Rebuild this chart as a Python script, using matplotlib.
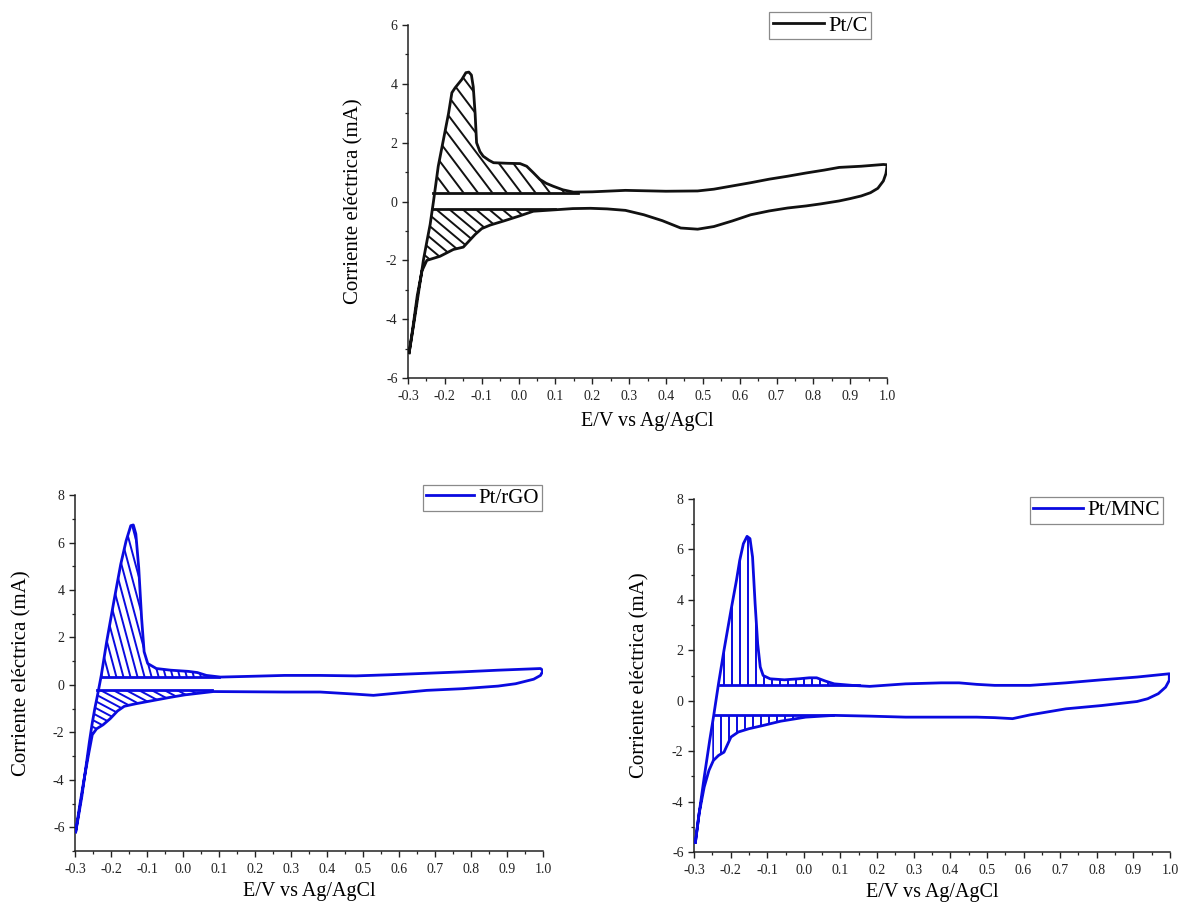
#!/usr/bin/env python3
"""Voltamperogramas ciclicos Pt/C, Pt/rGO y Pt/MNC con regiones H_upd rayadas."""

import matplotlib

matplotlib.use("Agg")
import matplotlib.pyplot as plt
import numpy as np
from matplotlib.collections import LineCollection
from matplotlib.path import Path
from matplotlib.ticker import FormatStrFormatter, MultipleLocator

plt.rcParams["font.family"] = ["Liberation Serif", "DejaVu Serif"]
plt.rcParams["axes.unicode_minus"] = False

# ---- Pt/C ---------------------------------------------------------------
ptc_an_x = [-0.297, -0.29, -0.28, -0.268, -0.258, -0.248, -0.24, -0.231, -0.218, -0.204,
            -0.19, -0.181, -0.172, -0.154, -0.143, -0.135, -0.128, -0.123, -0.118, -0.114,
            -0.105, -0.096, -0.08, -0.068, -0.03, 0.004, 0.022, 0.04, 0.058, 0.075,
            0.094, 0.12, 0.149, 0.2, 0.29, 0.4, 0.486, 0.53, 0.58, 0.63,
            0.68, 0.73, 0.78, 0.83, 0.87, 0.93, 0.97, 0.99, 1.0]
ptc_an_y = [-5.14, -4.6, -3.8, -2.8, -1.97, -1.3, -0.78, 0.0, 1.2, 2.1,
            3.0, 3.7, 3.87, 4.15, 4.38, 4.4, 4.3, 3.9, 3.0, 2.0,
            1.7, 1.54, 1.4, 1.32, 1.3, 1.29, 1.2, 0.98, 0.75, 0.62,
            0.52, 0.4, 0.32, 0.33, 0.38, 0.35, 0.36, 0.42, 0.53, 0.64,
            0.76, 0.86, 0.97, 1.07, 1.16, 1.2, 1.24, 1.26, 1.25]
ptc_ca_x = [1.0, 0.997, 0.99, 0.975, 0.955, 0.93, 0.9, 0.87, 0.82, 0.78,
            0.73, 0.68, 0.63, 0.58, 0.53, 0.486, 0.44, 0.39, 0.34, 0.29,
            0.24, 0.195, 0.147, 0.1, 0.04, 0.0, -0.04, -0.077, -0.1, -0.118,
            -0.15, -0.177, -0.213, -0.249, -0.262, -0.275, -0.287, -0.297]
ptc_ca_y = [1.2, 0.95, 0.7, 0.45, 0.3, 0.19, 0.1, 0.02, -0.08, -0.15,
            -0.22, -0.32, -0.45, -0.66, -0.85, -0.94, -0.9, -0.65, -0.45, -0.3,
            -0.25, -0.23, -0.24, -0.28, -0.33, -0.5, -0.66, -0.8, -0.92, -1.12,
            -1.55, -1.63, -1.86, -2.0, -2.35, -3.2, -4.3, -5.14]
ptc_base = [0.30, -0.25]
ptc_up_line = [-0.231, 0.16]
ptc_lo_line = [-0.236, 0.10]
ptc_lo_hatch = [-0.256, 0.10]

# ---- Pt/rGO -------------------------------------------------------------
rgo_an_x = [-0.298, -0.29, -0.281, -0.27, -0.26, -0.252, -0.245, -0.237, -0.227, -0.212,
            -0.192, -0.173, -0.158, -0.145, -0.138, -0.131, -0.123, -0.115, -0.108, -0.098,
            -0.074, -0.034, 0.015, 0.04, 0.065, 0.104, 0.183, 0.282, 0.381, 0.48,
            0.578, 0.677, 0.776, 0.875, 0.993]
rgo_an_y = [-6.19, -5.5, -4.7, -3.5, -2.4, -1.6, -1.0, -0.4, 0.4, 1.82,
            3.52, 5.08, 6.07, 6.71, 6.74, 6.36, 4.94, 2.81, 1.4, 0.9,
            0.69, 0.62, 0.57, 0.52, 0.4, 0.33, 0.36, 0.4, 0.4, 0.38,
            0.43, 0.49, 0.55, 0.62, 0.69]
rgo_ca_x = [1.0, 0.993, 0.974, 0.924, 0.875, 0.776, 0.677, 0.578, 0.529, 0.48,
            0.381, 0.282, 0.183, 0.084, 0.005, -0.034, -0.084, -0.133, -0.163, -0.182,
            -0.202, -0.222, -0.24, -0.252, -0.262, -0.275, -0.286, -0.298]
rgo_ca_y = [0.6, 0.4, 0.24, 0.05, -0.05, -0.16, -0.23, -0.37, -0.44, -0.39,
            -0.3, -0.3, -0.29, -0.28, -0.42, -0.52, -0.66, -0.8, -0.9, -1.1,
            -1.42, -1.68, -1.85, -2.1, -2.9, -4.0, -5.0, -6.19]
rgo_base = [0.33, -0.23]
rgo_up_line = [-0.224, 0.10]
rgo_lo_line = [-0.238, 0.08]
rgo_lo_hatch = [-0.25, 0.08]

# ---- Pt/MNC -------------------------------------------------------------
mnc_an_x = [-0.296, -0.286, -0.272, -0.257, -0.246, -0.233, -0.218, -0.199, -0.184, -0.175,
            -0.165, -0.155, -0.147, -0.14, -0.133, -0.126, -0.119, -0.111, -0.092, -0.053,
            -0.014, 0.015, 0.035, 0.059, 0.083, 0.132, 0.18, 0.278, 0.375, 0.424,
            0.472, 0.521, 0.618, 0.716, 0.813, 0.91, 0.998]
mnc_an_y = [-5.61, -4.48, -3.03, -1.57, -0.58, 0.67, 2.0, 3.58, 4.77, 5.57,
            6.23, 6.52, 6.43, 5.7, 3.85, 2.26, 1.34, 1.0, 0.87, 0.83,
            0.87, 0.91, 0.91, 0.78, 0.67, 0.61, 0.57, 0.67, 0.71, 0.71,
            0.65, 0.61, 0.61, 0.71, 0.83, 0.94, 1.07]
mnc_ca_x = [0.998, 0.988, 0.968, 0.939, 0.91, 0.813, 0.716, 0.618, 0.57, 0.521,
            0.472, 0.375, 0.278, 0.18, 0.083, 0.005, -0.063, -0.111, -0.15, -0.179,
            -0.199, -0.218, -0.233, -0.247, -0.259, -0.272, -0.286, -0.296]
mnc_ca_y = [0.81, 0.54, 0.28, 0.08, -0.03, -0.19, -0.32, -0.56, -0.71, -0.67,
            -0.65, -0.65, -0.65, -0.61, -0.58, -0.65, -0.81, -0.98, -1.11, -1.24,
            -1.44, -2.04, -2.17, -2.37, -2.76, -3.42, -4.48, -5.61]
mnc_base = [0.61, -0.58]
mnc_up_line = [-0.228, 0.15]
mnc_lo_line = [-0.246, 0.08]
mnc_lo_hatch = [-0.25, 0.08]

BLACK = "#111111"
BLUE = "#0a0ae0"
XLABEL = "E/V vs Ag/AgCl"
YLABEL = "Corriente eléctrica (mA)"


def hatch_region(ax, region, angle, gap, color, lw=1.4):
    """Parallel lines (angle in screen degrees, gap in px) clipped to a fill region."""
    paths = region.get_paths()
    if not paths:
        return
    path = Path.make_compound_path(*paths)
    ext = path.get_extents(ax.transData)
    th = np.deg2rad(angle)
    d = np.array([np.cos(th), np.sin(th)])
    n = np.array([-d[1], d[0]])
    corners = np.array([[ext.x0, ext.y0], [ext.x1, ext.y0], [ext.x0, ext.y1], [ext.x1, ext.y1]])
    proj = corners @ n
    L = ext.width + ext.height + 10
    inv = ax.transData.inverted()
    segs = []
    for off in np.arange(proj.min() - gap, proj.max() + gap, gap):
        p = n * off + d * (corners.mean(axis=0) @ d)
        segs.append(inv.transform(np.array([p - d * L, p + d * L])))
    lc = LineCollection(segs, colors=color, linewidths=lw, capstyle="butt")
    ax.add_collection(lc, autolim=False)
    lc.set_clip_path(path, ax.transData)


def draw_cv(ax, an_x, an_y, ca_x, ca_y, base, up_line, lo_line, lo_hatch, color,
            label, up_hatch, lo_style):
    an_x, an_y = np.asarray(an_x), np.asarray(an_y)
    ca_x, ca_y = np.asarray(ca_x), np.asarray(ca_y)
    loop_x = np.concatenate([an_x, ca_x])
    loop_y = np.concatenate([an_y, ca_y])
    line, = ax.plot(loop_x, loop_y, color=color, lw=2.0, solid_joinstyle="round",
                    label=label, zorder=3)
    ax.plot(up_line, [base[0], base[0]], color=color, lw=2.0, zorder=3)
    ax.plot(lo_line, [base[1], base[1]], color=color, lw=2.0, zorder=3)

    # region above the anodic baseline
    xg = np.linspace(up_line[0], up_line[1], 400)
    ya = np.interp(xg, an_x, an_y)
    up = ax.fill_between(xg, base[0], ya, where=ya > base[0], interpolate=True,
                         facecolor="none", edgecolor="none", linewidth=0)
    # region below the cathodic baseline, bounded left by the anodic scan
    xg = np.linspace(lo_hatch[0], lo_hatch[1], 400)
    ya = np.interp(xg, an_x, an_y)
    yc = np.interp(xg, ca_x[::-1], ca_y[::-1])
    top = np.minimum(base[1], ya)
    lo = ax.fill_between(xg, yc, top, where=yc < top, interpolate=True,
                         facecolor="none", edgecolor="none", linewidth=0)
    hatch_region(ax, up, *up_hatch, color)
    hatch_region(ax, lo, *lo_style, color)
    return line


def style_axes(ax, legend_box, legend_fs, xlab_y):
    for side in ("top", "right"):
        ax.spines[side].set_visible(False)
    for side in ("left", "bottom"):
        ax.spines[side].set_linewidth(1.1)
        ax.spines[side].set_color("#222222")
    ax.xaxis.set_major_locator(MultipleLocator(0.1))
    ax.xaxis.set_minor_locator(MultipleLocator(0.05))
    ax.yaxis.set_major_locator(MultipleLocator(2))
    ax.yaxis.set_minor_locator(MultipleLocator(1))
    ax.xaxis.set_major_formatter(FormatStrFormatter("%.1f"))
    ax.yaxis.set_major_formatter(FormatStrFormatter("%d"))
    ax.tick_params(which="major", direction="out", length=4.5, width=1.0,
                   labelsize=10, colors="#222222")
    ax.tick_params(axis="x", which="major", pad=4)
    ax.tick_params(axis="y", which="major", pad=3)
    ax.tick_params(which="minor", direction="out", length=2.5, width=0.9, colors="#222222")
    ax.set_xlabel(XLABEL, fontsize=14.5)
    ax.set_ylabel(YLABEL, fontsize=15)
    ax.xaxis.set_label_coords(0.5, xlab_y)
    ax.yaxis.set_label_coords(-0.093, 0.5)
    leg = ax.legend(loc="upper right", bbox_to_anchor=legend_box,
                    bbox_transform=ax.figure.transFigure, borderaxespad=0,
                    fancybox=False, framealpha=1, edgecolor="#8a8a8a",
                    fontsize=legend_fs, handlelength=2.3, handletextpad=0.2,
                    borderpad=0.15)
    leg.get_frame().set_linewidth(0.9)


fig = plt.figure(figsize=(11.81, 9.07), dpi=100)
ax_c = fig.add_axes([0.3455, 0.5832, 0.4056, 0.3892])
ax_r = fig.add_axes([0.0635, 0.0617, 0.3963, 0.3925])
ax_m = fig.add_axes([0.5876, 0.0606, 0.4031, 0.3892])

# limits first so the hatch spacing is computed in final screen units
ax_c.set_xlim(-0.3, 1.0); ax_c.set_ylim(-6, 6)
ax_r.set_xlim(-0.3, 1.0); ax_r.set_ylim(-7, 8)
ax_m.set_xlim(-0.3, 1.0); ax_m.set_ylim(-6, 8)

draw_cv(ax_c, ptc_an_x, ptc_an_y, ptc_ca_x, ptc_ca_y, ptc_base, ptc_up_line,
        ptc_lo_line, ptc_lo_hatch, BLACK, "Pt/C", (-53, 11.5), (-40, 8.5))
draw_cv(ax_r, rgo_an_x, rgo_an_y, rgo_ca_x, rgo_ca_y, rgo_base, rgo_up_line,
        rgo_lo_line, rgo_lo_hatch, BLUE, "Pt/rGO", (-75, 6.8), (-28, 6.0))
draw_cv(ax_m, mnc_an_x, mnc_an_y, mnc_ca_x, mnc_ca_y, mnc_base, mnc_up_line,
        mnc_lo_line, mnc_lo_hatch, BLUE, "Pt/MNC", (90, 8.0), (90, 8.0))

style_axes(ax_c, (871 / 1181, 1 - 12 / 907), 16, -0.095)
style_axes(ax_r, (542 / 1181, 1 - 485 / 907), 15, -0.088)
style_axes(ax_m, (1163 / 1181, 1 - 497 / 907), 15.5, -0.088)

fig.savefig("out.png", dpi=100)
